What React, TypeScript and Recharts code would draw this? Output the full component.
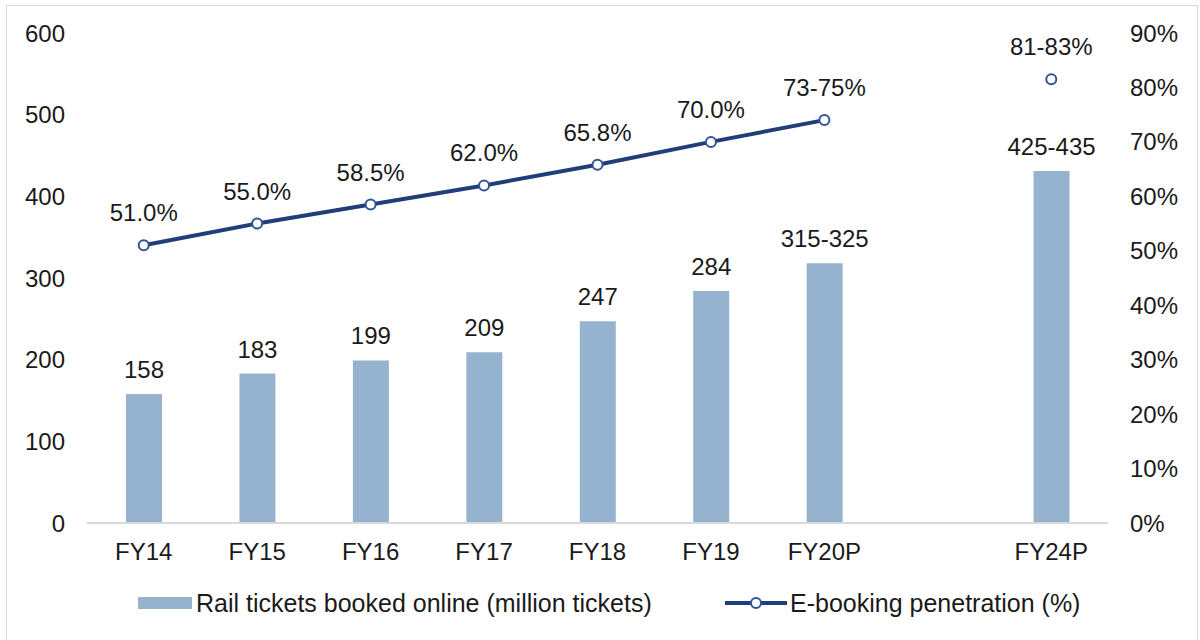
import React from "react";
import {
  ComposedChart,
  Bar,
  Line,
  XAxis,
  YAxis,
  Legend,
  LabelList,
} from "recharts";

const categories = ["FY14", "FY15", "FY16", "FY17", "FY18", "FY19", "FY20P", "", "FY24P"];
const ticketsBooked = [158, 183, 199, 209, 247, 284, 318, null, 431];
const ticketLabels = ["158", "183", "199", "209", "247", "284", "315-325", "", "425-435"];
const penetration = [51.0, 55.0, 58.5, 62.0, 65.8, 70.0, 74.0, null, 81.5];
const penetrationLabels = ["51.0%", "55.0%", "58.5%", "62.0%", "65.8%", "70.0%", "73-75%", "", "81-83%"];
const leftTicks = [0, 100, 200, 300, 400, 500, 600];
const rightTicks = [0, 10, 20, 30, 40, 50, 60, 70, 80, 90];

const BAR_COLOR = "#95b3cf";
const LINE_COLOR = "#1f3e7a";
const DOT_COLOR = "#2f5597";
const TEXT_COLOR = "#1a1a1a";
const FONT = "'Liberation Sans', Arial, sans-serif";
const FS = 24;

const data = categories.map((c, i) => ({
  cat: c,
  tickets: ticketsBooked[i],
  ticketLabel: ticketLabels[i],
  pen: penetration[i],
  penLabel: penetrationLabels[i],
}));

const renderLegend = () => (
  <div style={{ position: "relative", width: 1200, height: 30, fontFamily: FONT, fontSize: 25, color: TEXT_COLOR }}>
    <div style={{ position: "absolute", left: 138, top: 9, width: 54, height: 12, background: BAR_COLOR }} />
    <div style={{ position: "absolute", left: 196, top: 0, height: 30, lineHeight: "30px", whiteSpace: "nowrap" }}>
      Rail tickets booked online (million tickets)
    </div>
    <svg style={{ position: "absolute", left: 724, top: 0 }} width={64} height={30}>
      <line x1={1} y1={15} x2={63} y2={15} stroke={LINE_COLOR} strokeWidth={4} />
      <circle cx={32} cy={15} r={5} fill="#fff" stroke={DOT_COLOR} strokeWidth={2} />
    </svg>
    <div style={{ position: "absolute", left: 790, top: 0, height: 30, lineHeight: "30px", whiteSpace: "nowrap" }}>
      E-booking penetration (%)
    </div>
  </div>
);

export default function App() {
  return (
    <div style={{ position: "fixed", left: 0, top: 0, width: 1200, height: 640, overflow: "hidden", background: "#fff" }}>
      <div
        style={{
          position: "absolute",
          left: 6,
          top: 5,
          width: 1190,
          height: 700,
          border: "1px solid #d9d9d9",
        }}
      />
      <div style={{ position: "absolute", left: 0, top: 0 }}>
        <ComposedChart
          width={1200}
          height={640}
          data={data}
          margin={{ top: 33, right: 0, bottom: 47, left: 0 }}
          barCategoryGap={0}
        >
          <XAxis
            dataKey="cat"
            xAxisId="x"
            height={40}
            tickSize={0}
            tickMargin={20}
            axisLine={{ stroke: "#d9d9d9", strokeWidth: 2 }}
            tickLine={false}
            interval={0}
            tick={{ fill: TEXT_COLOR, fontSize: FS, fontFamily: FONT }}
          />
          <YAxis
            yAxisId="left"
            orientation="left"
            width={87}
            domain={[0, 600]}
            ticks={leftTicks}
            tickSize={0}
            tickMargin={22}
            axisLine={false}
            tickLine={false}
            tick={{ fill: TEXT_COLOR, fontSize: FS, fontFamily: FONT }}
          />
          <YAxis
            yAxisId="right"
            orientation="right"
            width={92}
            domain={[0, 90]}
            ticks={rightTicks}
            tickSize={0}
            tickMargin={22}
            axisLine={false}
            tickLine={false}
            tickFormatter={(v: number) => `${v}%`}
            tick={{ fill: TEXT_COLOR, fontSize: FS, fontFamily: FONT, textAnchor: "start" }}
          />
          <Legend
            verticalAlign="bottom"
            content={renderLegend}
            wrapperStyle={{ position: "absolute", left: 0, top: 588, width: 1200, height: 30 }}
          />
          <Bar
            dataKey="tickets"
            xAxisId="x"
            yAxisId="left"
            fill={BAR_COLOR}
            barSize={36}
            isAnimationActive={false}
            legendType="rect"
          >
            <LabelList
              dataKey="ticketLabel"
              position="top"
              offset={16}
              fill={TEXT_COLOR}
              fontSize={FS}
              fontFamily={FONT}
            />
          </Bar>
          <Line
            dataKey="pen"
            xAxisId="x"
            yAxisId="right"
            stroke={LINE_COLOR}
            strokeWidth={4}
            connectNulls={false}
            dot={{ r: 5, fill: "#fff", stroke: DOT_COLOR, strokeWidth: 2 }}
            activeDot={false}
            isAnimationActive={false}
          >
            <LabelList
              dataKey="penLabel"
              position="top"
              offset={24}
              fill={TEXT_COLOR}
              fontSize={FS}
              fontFamily={FONT}
            />
          </Line>
        </ComposedChart>
      </div>
    </div>
  );
}
